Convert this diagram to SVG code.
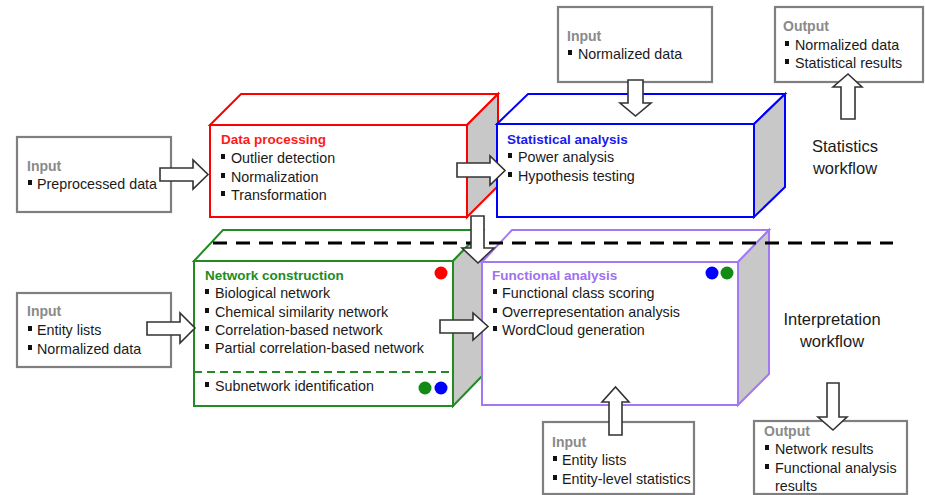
<svg xmlns="http://www.w3.org/2000/svg" width="925" height="495" viewBox="0 0 925 495">
<style>
text{font-family:"Liberation Sans",Arial,sans-serif;font-size:14.3px;fill:#1a1a1a}
.lbl{font-weight:bold;fill:#8a8a8a;font-size:14px}
.ttl{font-weight:bold;font-size:13.5px}
.wf{font-size:16.5px;text-anchor:middle}
.io{fill:#fff;stroke:#7f7f7f;stroke-width:2.2}
.side{fill:#c8c8c8}
.top{fill:#fff}
.arr{fill:#fff;stroke:#333;stroke-width:1.6;stroke-linejoin:miter}
.b{fill:#111}
</style>
<defs>
<rect id="bul" width="4" height="5" class="b"/>
</defs>

<!-- Input/Output boxes -->
<g id="in-preprocessed">
<rect class="io" x="17" y="137" width="154" height="75"/>
<text class="lbl" x="27" y="171">Input</text>
<use href="#bul" x="28" y="180"/><text x="37" y="189">Preprocessed data</text>
</g>
<g id="in-entity">
<rect class="io" x="17" y="293" width="154" height="74"/>
<text class="lbl" x="27" y="316">Input</text>
<use href="#bul" x="28" y="326"/><text x="37" y="335">Entity lists</text>
<use href="#bul" x="28" y="345"/><text x="37" y="354">Normalized data</text>
</g>
<g id="in-normalized">
<rect class="io" x="558" y="7" width="154" height="75"/>
<text class="lbl" x="567" y="41">Input</text>
<use href="#bul" x="568" y="50"/><text x="578" y="59">Normalized data</text>
</g>
<g id="out-stats">
<rect class="io" x="775" y="7" width="148" height="75"/>
<text class="lbl" x="783" y="31">Output</text>
<use href="#bul" x="785" y="41"/><text x="795" y="50">Normalized data</text>
<use href="#bul" x="785" y="59"/><text x="795" y="68">Statistical results</text>
</g>
<g id="in-entity-stats">
<rect class="io" x="543" y="422" width="151" height="72"/>
<text class="lbl" x="552" y="447">Input</text>
<use href="#bul" x="553" y="456"/><text x="562" y="465">Entity lists</text>
<use href="#bul" x="553" y="475"/><text x="562" y="484">Entity-level statistics</text>
</g>
<g id="out-interp">
<rect class="io" x="754" y="421" width="153" height="73"/>
<text class="lbl" x="764" y="436">Output</text>
<use href="#bul" x="765" y="445"/><text x="775" y="454">Network results</text>
<use href="#bul" x="765" y="464"/><text x="775" y="473">Functional analysis</text>
<text x="775" y="491">results</text>
</g>

<!-- Data processing -->
<g id="data-processing" stroke="#ff0000" stroke-width="2" stroke-linejoin="miter">
<polygon class="top" points="210,125 241,94 498,94 467,125"/>
<polygon class="side" points="467,125 498,94 498,186 467,217"/>
<rect x="210" y="125" width="257" height="92" fill="#fff"/>
<g stroke="none">
<text class="ttl" x="221" y="144" style="fill:#ff1a1a">Data processing</text>
<use href="#bul" x="221" y="154"/><text x="231" y="163">Outlier detection</text>
<use href="#bul" x="221" y="173"/><text x="231" y="182">Normalization</text>
<use href="#bul" x="221" y="191"/><text x="231" y="200">Transformation</text>
</g>
</g>

<!-- Statistical analysis -->
<g id="statistical-analysis" stroke="#0000ff" stroke-width="2">
<polygon class="top" points="497,124 528,94 785,94 754,124"/>
<polygon class="side" points="754,124 785,94 785,187 754,217"/>
<rect x="497" y="124" width="257" height="93" fill="#fff"/>
<g stroke="none">
<text class="ttl" x="507" y="144" style="fill:#1a1aee">Statistical analysis</text>
<use href="#bul" x="508" y="153"/><text x="518" y="162">Power analysis</text>
<use href="#bul" x="508" y="172"/><text x="518" y="181">Hypothesis testing</text>
</g>
</g>

<!-- Network construction -->
<g id="network-construction" stroke="#228b22" stroke-width="2">
<polygon class="top" points="194,261 223,230 483,230 453,261"/>
<polygon class="side" points="453,261 483,230 483,375 453,406"/>
<rect x="194" y="261" width="259" height="145" fill="#fff"/>
<line x1="194" y1="372" x2="453" y2="372" stroke-dasharray="8,5"/>
<g stroke="none">
<text class="ttl" x="205" y="280" style="fill:#228b22">Network construction</text>
<use href="#bul" x="205" y="289"/><text x="215" y="298">Biological network</text>
<use href="#bul" x="205" y="308"/><text x="215" y="317">Chemical similarity network</text>
<use href="#bul" x="205" y="326"/><text x="215" y="335">Correlation-based network</text>
<use href="#bul" x="205" y="344"/><text x="215" y="353">Partial correlation-based network</text>
<use href="#bul" x="205" y="382"/><text x="215" y="391">Subnetwork identification</text>
<circle cx="441" cy="273" r="6.5" fill="#ff0000"/>
<circle cx="425" cy="388" r="6.5" fill="#138a13"/>
<circle cx="441" cy="388" r="6.5" fill="#0000ff"/>
</g>
</g>

<!-- Functional analysis -->
<g id="functional-analysis" stroke="#a478f4" stroke-width="2">
<polygon class="top" points="482,262 512,230 769,230 738,262"/>
<polygon class="side" points="738,262 769,230 769,374 738,405"/>
<rect x="482" y="262" width="256" height="143" fill="#fff"/>
<g stroke="none">
<text class="ttl" x="492" y="280" style="fill:#a070f0">Functional analysis</text>
<use href="#bul" x="493" y="289"/><text x="502" y="298">Functional class scoring</text>
<use href="#bul" x="493" y="308"/><text x="502" y="317">Overrepresentation analysis</text>
<use href="#bul" x="493" y="326"/><text x="502" y="335">WordCloud generation</text>
<circle cx="712" cy="273" r="6.5" fill="#0000ff"/>
<circle cx="727" cy="273" r="6.5" fill="#138a13"/>
</g>
</g>

<g id="labels">
<text class="wf" x="845" y="152">Statistics</text>
<text class="wf" x="845" y="174">workflow</text>
<text class="wf" x="832" y="325">Interpretation</text>
<text class="wf" x="832" y="347">workflow</text>
</g>

<g id="separator">
<line x1="213" y1="243" x2="893" y2="243" stroke="#000" stroke-width="3" stroke-dasharray="14,9"/>
</g>

<g id="connectors">
<polygon class="arr" points="160,168 193,168 193,160 208,174.5 193,189 193,181 160,181"/>
<polygon class="arr" points="457,163 490,163 490,156 505,170.5 490,185 490,177 457,177"/>
<polygon class="arr" points="147,322 180,322 180,313 195,328 180,343 180,335 147,335"/>
<polygon class="arr" points="440,320 473,320 473,313 488,326.5 473,340 473,333 440,333"/>
<polygon class="arr" points="628,80 643,80 643,103 651,103 635.5,116 620,103 628,103"/>
<polygon class="arr" points="471,216 484,216 484,248 494,248 478,263 462,248 471,248"/>
<polygon class="arr" points="827,383 839,383 839,417 847,417 833,430 818,417 827,417"/>
<polygon class="arr" points="841,119 855,119 855,87 862,87 848,74 833,87 841,87"/>
<polygon class="arr" points="609,435 622,435 622,402 629,402 615.5,387 602,402 609,402"/>
</g>
</svg>
